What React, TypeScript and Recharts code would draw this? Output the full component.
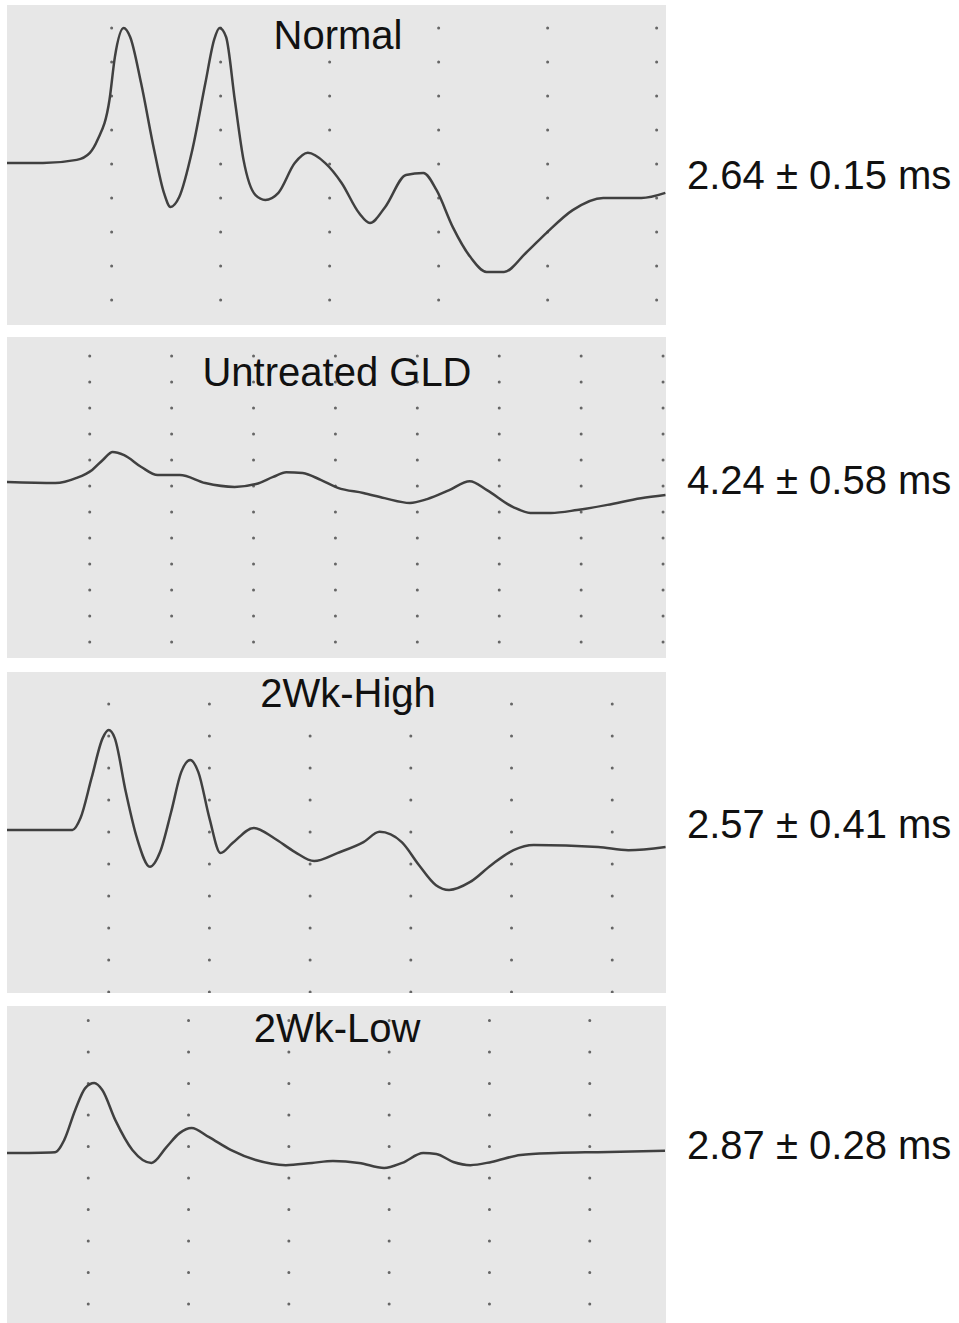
import { CartesianGrid, Line, LineChart, ReferenceLine, XAxis, YAxis } from 'recharts';

// time from left edge of each trace (ms), amplitude in arbitrary units (0..10 panel height)
const normalTime = [0, 0.33, 0.64, 0.76, 0.83, 0.94, 0.99, 1.07, 1.13, 1.23, 1.35, 1.44, 1.5, 1.58, 1.7, 1.82, 1.9, 1.95, 2.01, 2.09, 2.17, 2.28, 2.37, 2.49, 2.64, 2.76, 2.92, 3.07, 3.23, 3.33, 3.47, 3.66, 3.82, 3.94, 4.09, 4.25, 4.4, 4.56, 4.76, 4.95, 5.19, 5.47, 5.82, 6.04];
const normalAmp = [5.06, 5.06, 5.16, 5.38, 5.78, 7.03, 8.38, 9.28, 9.0, 7.56, 5.47, 4.13, 3.69, 4.0, 5.47, 7.56, 8.91, 9.28, 9.0, 7.03, 5.16, 4.06, 3.91, 4.13, 5.06, 5.38, 5.06, 4.44, 3.5, 3.19, 3.69, 4.69, 4.75, 4.22, 3.06, 2.13, 1.66, 1.66, 2.25, 2.88, 3.59, 3.97, 3.97, 4.13];

const gldTime = [0, 0.59, 0.85, 1.04, 1.17, 1.29, 1.43, 1.64, 1.84, 2.11, 2.42, 2.78, 3.04, 3.25, 3.41, 3.61, 3.83, 4.04, 4.35, 4.61, 4.92, 5.13, 5.4, 5.65, 5.86, 6.18, 6.39, 6.64, 6.96, 7.33, 7.74, 8.04];
const gldAmp = [5.48, 5.45, 5.61, 5.86, 6.17, 6.42, 6.32, 5.95, 5.7, 5.7, 5.45, 5.33, 5.42, 5.64, 5.79, 5.76, 5.55, 5.3, 5.14, 4.98, 4.83, 4.95, 5.23, 5.51, 5.23, 4.7, 4.52, 4.52, 4.61, 4.77, 4.98, 5.08];

const highTime = [0, 0.65, 0.73, 0.84, 0.95, 1.01, 1.07, 1.18, 1.29, 1.42, 1.52, 1.63, 1.73, 1.82, 1.9, 2.01, 2.12, 2.24, 2.45, 2.65, 2.86, 3.05, 3.28, 3.54, 3.7, 3.92, 4.09, 4.26, 4.39, 4.6, 4.81, 5.03, 5.23, 5.87, 6.17, 6.54];
const highAmp = [5.08, 5.08, 5.45, 6.7, 7.94, 8.19, 7.94, 6.26, 4.83, 3.93, 4.39, 5.64, 6.88, 7.26, 6.88, 5.45, 4.36, 4.67, 5.14, 4.83, 4.39, 4.11, 4.36, 4.7, 5.02, 4.7, 3.99, 3.36, 3.21, 3.46, 3.99, 4.45, 4.61, 4.55, 4.45, 4.55];

const lowTime = [0, 0.48, 0.57, 0.68, 0.78, 0.87, 0.95, 1.08, 1.25, 1.44, 1.59, 1.72, 1.84, 2.01, 2.23, 2.48, 2.78, 3.04, 3.25, 3.51, 3.76, 3.94, 4.15, 4.28, 4.45, 4.62, 4.83, 5.12, 5.47, 5.89, 6.56];
const lowAmp = [5.36, 5.39, 5.77, 6.72, 7.41, 7.57, 7.35, 6.4, 5.46, 5.05, 5.55, 5.99, 6.15, 5.87, 5.46, 5.14, 4.98, 5.05, 5.11, 5.05, 4.89, 5.05, 5.36, 5.33, 5.08, 4.98, 5.08, 5.3, 5.36, 5.39, 5.43];

// dotted division marks on the recording paper (ms)
const normalGrid = [0.96, 1.96, 2.96, 3.96, 4.96, 5.96];
const gldGrid = [1.01, 2.01, 3.01, 4.01, 5.01, 6.01, 7.01, 8.01];
const highGrid = [1.01, 2.01, 3.01, 4.01, 5.01, 6.01];
const lowGrid = [0.81, 1.81, 2.81, 3.81, 4.81, 5.81];

const titles = ['Normal', 'Untreated GLD', '2Wk-High', '2Wk-Low'];
const latencies = ['2.64 ± 0.15 ms', '4.24 ± 0.58 ms', '2.57 ± 0.41 ms', '2.87 ± 0.28 ms'];

const zip = (t: number[], a: number[]) => t.map((time, i) => ({ time, amp: a[i] }));

const panels = [
  { data: zip(normalTime, normalAmp), grid: normalGrid, xMax: 6.046, top: 5, height: 320, dotGap: 34, dotOffset: 9, titleX: 338, titleY: 49, valueY: 189 },
  { data: zip(gldTime, gldAmp), grid: gldGrid, xMax: 8.046, top: 337, height: 321, dotGap: 26, dotOffset: 10, titleX: 337, titleY: 386, valueY: 494 },
  { data: zip(highTime, highAmp), grid: highGrid, xMax: 6.544, top: 672, height: 321, dotGap: 32, dotOffset: 31, titleX: 348, titleY: 707, valueY: 838 },
  { data: zip(lowTime, lowAmp), grid: lowGrid, xMax: 6.57, top: 1006, height: 317, dotGap: 31.5, dotOffset: 12.5, titleX: 337, titleY: 1042, valueY: 1159 },
];

const FONT = '"Liberation Sans", Arial, sans-serif';

function Trace({ p }: { p: (typeof panels)[number] }) {
  return (
    <div style={{ position: 'absolute', left: 7, top: p.top }}>
      <LineChart width={659} height={p.height} data={p.data} margin={{ top: 0, right: 0, bottom: 0, left: 0 }}>
        <CartesianGrid horizontal={false} vertical={false} fill="#e7e7e7" />
        <XAxis type="number" dataKey="time" domain={[0, p.xMax]} ticks={p.grid} hide />
        <YAxis type="number" domain={[0, 10]} hide />
        {p.grid.map((t) => (
          <ReferenceLine
            key={t}
            x={t}
            stroke="#666"
            strokeWidth={3}
            strokeLinecap="round"
            strokeDasharray={`0 ${p.dotGap}`}
            strokeDashoffset={p.dotOffset}
          />
        ))}
        <Line type="monotone" dataKey="amp" stroke="#404040" strokeWidth={2.5} dot={false} isAnimationActive={false} />
      </LineChart>
    </div>
  );
}

export default function App() {
  return (
    <div style={{ position: 'absolute', left: 0, top: 0, width: 959, height: 1323, background: '#fff', overflow: 'hidden' }}>
      {panels.map((p, i) => (
        <Trace key={i} p={p} />
      ))}
      <svg width={959} height={1323} style={{ position: 'absolute', left: 0, top: 0, pointerEvents: 'none' }}>
        {panels.map((p, i) => (
          <g key={i} fontFamily={FONT} fill="#111">
            <text x={p.titleX} y={p.titleY} fontSize={40} textAnchor="middle">
              {titles[i]}
            </text>
            <text x={687} y={p.valueY} fontSize={40}>
              {latencies[i]}
            </text>
          </g>
        ))}
      </svg>
    </div>
  );
}
